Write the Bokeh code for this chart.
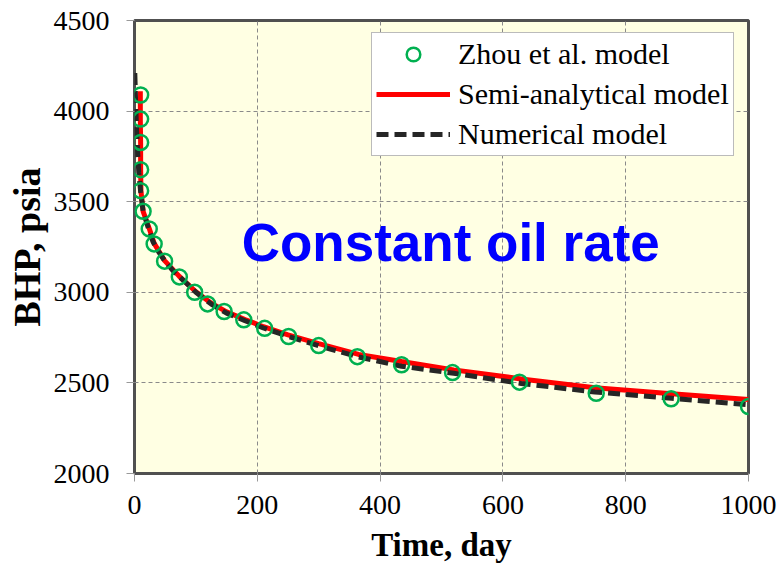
from bokeh.plotting import figure
from bokeh.models import Label, Legend, LegendItem, FixedTicker
from bokeh.embed import file_html
from bokeh.resources import INLINE

# Zhou et al. model (circles)
zhou_t = [10, 10, 10, 10, 10, 14, 24, 32, 49, 73, 98, 119, 146, 178, 212, 251, 300, 363, 435, 518, 627, 752, 874, 1000]
zhou_bhp = [4089, 3956, 3827, 3677, 3561, 3447, 3350, 3267, 3172, 3085, 3000, 2936, 2894, 2848, 2801, 2756, 2706, 2645, 2600, 2557, 2504, 2443, 2412, 2370]

# Semi-analytical model (red line)
semi_t = [9.5, 9.5, 10, 10, 10.5, 14, 24, 32, 49, 73, 100, 125, 150, 180, 210, 250, 300, 365, 435, 520, 630, 750, 875, 1000]
semi_bhp = [4110, 3950, 3820, 3680, 3560, 3447, 3352, 3270, 3175, 3088, 3003, 2940, 2892, 2850, 2810, 2765, 2717, 2657, 2618, 2572, 2522, 2473, 2440, 2408]

# Numerical model (black dashed line)
num_t = [0.5, 1, 2, 3, 5, 7, 10, 14, 22, 30, 40, 50, 65, 80, 100, 125, 150, 180, 210, 250, 300, 365, 435, 520, 630, 750, 875, 1000]
num_bhp = [4210, 4150, 4030, 3930, 3780, 3660, 3555, 3450, 3360, 3280, 3220, 3170, 3110, 3065, 3000, 2935, 2885, 2843, 2803, 2757, 2705, 2643, 2592, 2553, 2497, 2450, 2415, 2380]

x_ticks = [0, 200, 400, 600, 800, 1000]
y_ticks = [2000, 2500, 3000, 3500, 4000, 4500]

p = figure(width=778, height=569, output_backend="svg", toolbar_location=None,
           x_range=(0, 1000), y_range=(2000, 4500),
           min_border_left=134, min_border_right=30, min_border_top=20, min_border_bottom=96)

p.background_fill_color = "#FFFFE3"
p.border_fill_color = "white"
p.outline_line_color = "#505050"
p.outline_line_width = 3

for ax in (p.xaxis[0], p.yaxis[0]):
    ax.axis_line_color = None
    ax.major_tick_line_color = "#999999"
    ax.major_tick_out = 8
    ax.major_tick_in = 0
    ax.minor_tick_line_color = None
    ax.major_label_text_font = "Liberation Serif"
    ax.major_label_text_font_size = "28px"
    ax.major_label_text_color = "black"
    ax.axis_label_text_font = "Liberation Serif"
    ax.axis_label_text_font_style = "bold"
    ax.axis_label_text_color = "black"

p.xaxis[0].ticker = FixedTicker(ticks=x_ticks)
p.yaxis[0].ticker = FixedTicker(ticks=y_ticks)
p.xaxis[0].axis_label = "Time, day"
p.yaxis[0].axis_label = "BHP, psia"
p.xaxis[0].axis_label_text_font_size = "33px"
p.yaxis[0].axis_label_text_font_size = "38px"
p.xaxis[0].major_label_standoff = 14
p.yaxis[0].major_label_standoff = 17
p.xaxis[0].axis_label_standoff = 10
p.yaxis[0].axis_label_standoff = 3

p.xgrid.ticker = FixedTicker(ticks=x_ticks)
p.ygrid.ticker = FixedTicker(ticks=y_ticks)
for g in (p.xgrid[0], p.ygrid[0]):
    g.grid_line_color = "#8a8a8a"
    g.grid_line_dash = "4 3"
    g.grid_line_width = 1

r_semi = p.line(semi_t, semi_bhp, line_color="#FF0000", line_width=5)
r_num = p.line(num_t, num_bhp, line_color="#262626", line_width=5, line_dash="12 6")
r_zhou = p.scatter(zhou_t, zhou_bhp, marker="circle", size=15, fill_color=None,
                   line_color="#00B050", line_width=2.5)

title = Label(x=515, y=3274, text="Constant oil rate", text_align="center",
              text_baseline="alphabetic", text_font="Liberation Sans",
              text_font_style="bold", text_font_size="53px", text_color="#0000FF")
p.add_layout(title)

legend = Legend(items=[
    LegendItem(label="Zhou et al. model", renderers=[r_zhou]),
    LegendItem(label="Semi-analytical model", renderers=[r_semi]),
    LegendItem(label="Numerical model", renderers=[r_num]),
], location=(237, 317))
legend.label_text_font = "Liberation Serif"
legend.label_text_font_size = "30px"
legend.label_text_color = "black"
legend.glyph_width = 74
legend.glyph_height = 34
legend.label_height = 34
legend.spacing = 6
legend.padding = 4
legend.margin = 0
legend.label_standoff = 8
legend.border_line_color = "#777777"
legend.border_line_width = 1
legend.background_fill_color = "white"
legend.background_fill_alpha = 1
p.add_layout(legend)

open("out.html", "w").write(file_html(p, INLINE))
